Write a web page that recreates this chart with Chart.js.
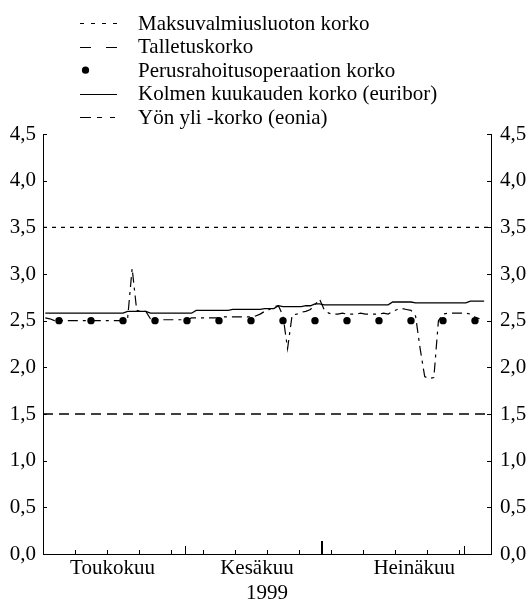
<!DOCTYPE html>
<html>
<head>
<meta charset="utf-8">
<script src="https://cdn.jsdelivr.net/npm/chart.js@4.4.1/dist/chart.umd.min.js"></script>
<style>
  html, body { margin: 0; padding: 0; background: #fff; }
  #wrap { width: 530px; height: 601px; }
</style>
</head>
<body>
<div id="wrap"><canvas id="c" width="530" height="601"></canvas></div>
<script>
// Day numbers count from 1 May 1999 (day 0); a daily value sits in the middle of its day.
const yearLabel = '1999';
const axisEndDay = 98;
const monthNames = ['Toukokuu', 'Kesäkuu', 'Heinäkuu'];
const monthLabelDays = [15.2, 46.8, 81.2];
const monthTickDays = [31, 61, 92];
const quarterTickDays = [61];
const weekTickDays = [7, 14, 21, 28, 35, 42, 49, 56, 63, 70, 77, 84, 91];
const yTickValues = [0, 0.5, 1, 1.5, 2, 2.5, 3, 3.5, 4, 4.5];

const seriesLabels = [
  'Maksuvalmiusluoton korko',
  'Talletuskorko',
  'Perusrahoitusoperaation korko',
  'Kolmen kuukauden korko (euribor)',
  'Yön yli -korko (eonia)'
];

// ECB standing facility rates
const lendingRate = 3.5;
const depositRate = 1.5;

// Main refinancing operations (day number, rate)
const mroDays  = [3, 10, 17, 24, 31, 38, 45, 52, 59, 66, 73, 80, 87, 94];
const mroRates = [2.5, 2.5, 2.5, 2.5, 2.5, 2.5, 2.5, 2.5, 2.5, 2.5, 2.5, 2.5, 2.5, 2.5];

// 3-month euribor, daily from day 0
const euribor = [
  2.58, 2.58, 2.58, 2.58, 2.58, 2.58, 2.58, 2.58, 2.58, 2.58,
  2.58, 2.58, 2.58, 2.58, 2.58, 2.58, 2.58, 2.58, 2.60, 2.60,
  2.60, 2.60, 2.60, 2.58, 2.58, 2.58, 2.58, 2.58, 2.58, 2.58,
  2.58, 2.58, 2.58, 2.61, 2.61, 2.61, 2.61, 2.61, 2.61, 2.61,
  2.61, 2.62, 2.62, 2.62, 2.62, 2.62, 2.62, 2.62, 2.63, 2.63,
  2.63, 2.66, 2.65, 2.65, 2.65, 2.65, 2.65, 2.66, 2.66, 2.68,
  2.68, 2.67, 2.67, 2.67, 2.67, 2.67, 2.67, 2.67, 2.67, 2.67,
  2.67, 2.67, 2.67, 2.67, 2.67, 2.67, 2.70, 2.70, 2.70, 2.70,
  2.70, 2.69, 2.69, 2.69, 2.69, 2.69, 2.69, 2.69, 2.69, 2.69,
  2.69, 2.69, 2.69, 2.71, 2.71, 2.71, 2.71
];

// Overnight rate (eonia), daily from day 0
const eonia = [
  2.53, 2.52, 2.50, 2.50, 2.50, 2.50, 2.50, 2.50, 2.50, 2.50,
  2.50, 2.50, 2.50, 2.50, 2.50, 2.50, 2.50, 2.50, 2.52, 3.06,
  2.61, 2.60, 2.60, 2.52, 2.51, 2.51, 2.51, 2.51, 2.51, 2.51,
  2.51, 2.51, 2.53, 2.53, 2.53, 2.53, 2.53, 2.53, 2.53, 2.54,
  2.54, 2.54, 2.54, 2.54, 2.54, 2.54, 2.55, 2.57, 2.60, 2.62,
  2.65, 2.66, 2.55, 2.20, 2.56, 2.57, 2.59, 2.60, 2.62, 2.67,
  2.73, 2.62, 2.58, 2.57, 2.57, 2.58, 2.57, 2.57, 2.57, 2.58,
  2.57, 2.57, 2.57, 2.57, 2.58, 2.57, 2.60, 2.62, 2.63, 2.62,
  2.61, 2.55, 2.20, 1.90, 1.88, 1.89, 2.50, 2.57, 2.58, 2.58,
  2.58, 2.58, 2.58, 2.57, 2.54, 2.52
];

const FONT_FAMILY = "'Liberation Serif', 'Times New Roman', serif";
const FONT_SIZE = 21;

const daily = arr => arr.map((v, i) => ({ x: i + 0.5, y: v }));
const flat = v => [{ x: 0, y: v }, { x: axisEndDay, y: v }];

const commaFmt = v => Number(v).toFixed(1).replace('.', ',');

// Inward tick marks on the axes
const innerTicks = {
  id: 'innerTicks',
  afterDraw(chart) {
    const { ctx, chartArea: a, scales: { x, y } } = chart;
    ctx.save();
    ctx.strokeStyle = '#000';
    const seg = (x1, y1, x2, y2, w) => {
      ctx.lineWidth = w;
      ctx.beginPath(); ctx.moveTo(x1, y1); ctx.lineTo(x2, y2); ctx.stroke();
    };
    yTickValues.forEach(v => {
      const py = Math.round(y.getPixelForValue(v)) + 0.5;
      seg(a.left, py, a.left + 4, py, 1);
      seg(a.right - 4, py, a.right, py, 1);
    });
    weekTickDays.forEach(d => {
      const px = Math.round(x.getPixelForValue(d)) + 0.5;
      seg(px, a.bottom, px, a.bottom - 4, 1);
    });
    monthTickDays.forEach(d => {
      const q = quarterTickDays.includes(d);
      const px = Math.round(x.getPixelForValue(d)) + (q ? 0 : 0.5);
      seg(px, a.bottom, px, a.bottom - (q ? 13 : 8), q ? 2 : 1);
    });
    ctx.restore();
  }
};

// Single-column legend above the plot
const columnLegend = {
  id: 'columnLegend',
  afterDraw(chart) {
    const { ctx } = chart;
    const x0 = 80, x1 = 117, tx = 138, top = 23, step = 23.6;
    ctx.save();
    ctx.fillStyle = '#000';
    ctx.strokeStyle = '#000';
    ctx.font = FONT_SIZE + 'px ' + FONT_FAMILY;
    ctx.textBaseline = 'middle';
    ctx.textAlign = 'left';
    chart.data.datasets.forEach((ds, i) => {
      const cy = top + i * step;
      const sym = ds.legendSymbol;
      if (sym.dot) {
        ctx.beginPath();
        ctx.arc(85.5, cy, 3.6, 0, Math.PI * 2);
        ctx.fill();
      } else {
        ctx.lineWidth = 1.2;
        ctx.setLineDash(sym.dash);
        ctx.beginPath();
        ctx.moveTo(x0, Math.round(cy) + 0.5);
        ctx.lineTo(x1, Math.round(cy) + 0.5);
        ctx.stroke();
        ctx.setLineDash([]);
      }
      ctx.fillText(ds.label, tx, cy + 1);
    });
    ctx.restore();
  }
};

const font = { family: FONT_FAMILY, size: FONT_SIZE };

new Chart(document.getElementById('c'), {
  type: 'line',
  data: {
    datasets: [
      {
        label: seriesLabels[0], data: flat(lendingRate),
        borderColor: '#000', borderWidth: 1.2, borderDash: [4, 5], pointRadius: 0,
        legendSymbol: { dash: [4, 7] }
      },
      {
        label: seriesLabels[1], data: flat(depositRate),
        borderColor: '#000', borderWidth: 1.5, borderDash: [10, 6], pointRadius: 0,
        legendSymbol: { dash: [11, 15] }
      },
      {
        label: seriesLabels[2], data: mroDays.map((d, i) => ({ x: d + 0.5, y: mroRates[i] })),
        showLine: false, pointRadius: 3.7, pointBackgroundColor: '#000', pointBorderWidth: 0,
        order: -1,
        legendSymbol: { dot: true }
      },
      {
        label: seriesLabels[3], data: daily(euribor),
        borderColor: '#000', borderWidth: 1.3, pointRadius: 0,
        legendSymbol: { dash: [] }
      },
      {
        label: seriesLabels[4], data: daily(eonia),
        borderColor: '#000', borderWidth: 1.2, borderDash: [10, 5, 3, 5], pointRadius: 0,
        legendSymbol: { dash: [11, 6, 5, 8, 5, 8] }
      }
    ]
  },
  options: {
    responsive: false,
    animation: false,
    devicePixelRatio: 1,
    layout: { padding: { top: 134, left: 0, right: 0, bottom: 0 } },
    elements: { line: { tension: 0, fill: false } },
    plugins: { legend: { display: false }, tooltip: { enabled: false } },
    scales: {
      x: {
        type: 'linear', min: 0, max: axisEndDay,
        grid: { display: false, drawTicks: false },
        border: { display: true, color: '#000', width: 1 },
        afterBuildTicks: axis => { axis.ticks = monthLabelDays.map(v => ({ value: v })); },
        afterFit: axis => { axis.height = 47; },
        ticks: {
          autoSkip: false, maxRotation: 0, minRotation: 0, padding: 2,
          color: '#000', font,
          callback: (v, i) => monthNames[i]
        },
        title: { display: true, text: yearLabel, color: '#000', font, padding: { top: 0, bottom: -5 } }
      },
      y: {
        position: 'left', min: 0, max: 4.5,
        grid: { display: false, drawTicks: false },
        border: { display: true, color: '#000', width: 1 },
        afterBuildTicks: axis => { axis.ticks = yTickValues.map(v => ({ value: v })); },
        afterFit: axis => { axis.width = 43; },
        ticks: { color: '#000', font, padding: 7, callback: v => commaFmt(v) }
      },
      y2: {
        position: 'right', min: 0, max: 4.5,
        grid: { display: false, drawTicks: false },
        border: { display: true, color: '#000', width: 1 },
        afterBuildTicks: axis => { axis.ticks = yTickValues.map(v => ({ value: v })); },
        afterFit: axis => { axis.width = 39; },
        ticks: { color: '#000', font, padding: 9, callback: v => commaFmt(v) }
      }
    }
  },
  plugins: [innerTicks, columnLegend]
});
</script>
</body>
</html>
